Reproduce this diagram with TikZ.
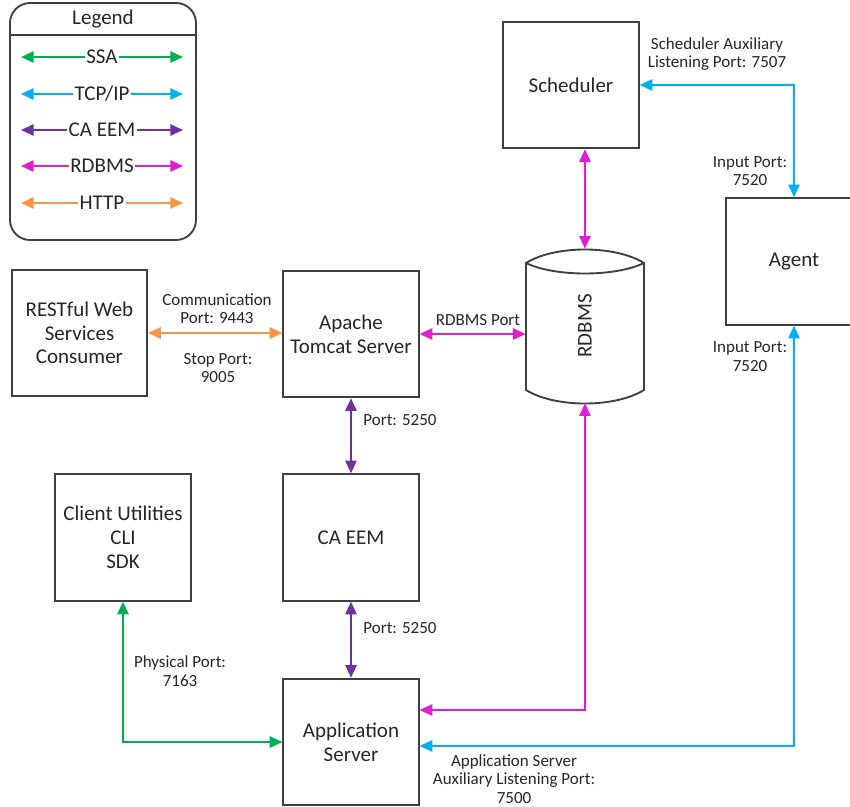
\documentclass[tikz,border=0pt]{standalone}
\usepackage{fontspec}
\setmainfont{Carlito}
\usetikzlibrary{arrows.meta,calc}
\definecolor{ssacol}{HTML}{00B050}
\definecolor{tcpcol}{HTML}{00B0F0}
\definecolor{eemcol}{HTML}{7030A0}
\definecolor{dbcol}{HTML}{DE20D2}
\definecolor{httpcol}{HTML}{F79646}
\definecolor{boxline}{HTML}{404040}
\definecolor{txt}{HTML}{262626}
\newcommand{\boxfont}{\fontsize{15.75}{17.8}\selectfont}
\newcommand{\lblfont}{\fontsize{12.75}{13.9}\selectfont}
\begin{document}
\begin{tikzpicture}[x=0.75pt,y=-0.75pt,
  text=txt,
  box/.style={draw=boxline, line width=1.4pt, minimum width=101.5pt, minimum height=95pt, align=center, font=\boxfont, inner sep=2pt},
  lbl/.style={font=\lblfont, align=center, inner sep=0pt},
  conn/.style={line width=1.35pt, {Triangle[length=9.5pt,width=8.5pt]}-{Triangle[length=9.5pt,width=8.5pt]}},
  ssa/.style={conn, draw=ssacol},
  tcp/.style={conn, draw=tcpcol},
  eem/.style={conn, draw=eemcol},
  db/.style={conn, draw=dbcol},
  http/.style={conn, draw=httpcol},
  legtext/.style={font=\boxfont, fill=white, inner sep=1pt, text=txt}
]
\useasboundingbox (0,0) rectangle (850,807);
\clip (0,0) rectangle (850,807);

% Legend
\node[draw=boxline, line width=1.4pt, rounded corners=15pt, minimum width=139.5pt, minimum height=177.75pt, inner sep=0pt] (legend) at (103,121.5) {};
\coordinate (lh1) at (10,35);
\coordinate (lh2) at (196,35);
\draw[boxline, line width=1.2pt] (lh1) -- (lh2);
\node[font=\boxfont, inner sep=0pt] (legtitle) at (103,19) {Legend};
\coordinate (la1) at (21,57);  \coordinate (lb1) at (183,57);
\coordinate (la2) at (21,94);  \coordinate (lb2) at (183,94);
\coordinate (la3) at (21,130); \coordinate (lb3) at (183,130);
\coordinate (la4) at (21,166); \coordinate (lb4) at (183,166);
\coordinate (la5) at (21,203); \coordinate (lb5) at (183,203);
\draw[ssa] (la1) -- node[legtext] (lssa) {SSA} (lb1);
\draw[tcp] (la2) -- node[legtext] (ltcp) {TCP/IP} (lb2);
\draw[eem] (la3) -- node[legtext] (leem) {CA EEM} (lb3);
\draw[db] (la4) -- node[legtext] (ldb) {RDBMS} (lb4);
\draw[http] (la5) -- node[legtext] (lhttp) {HTTP} (lb5);

% Boxes
\node[box] (sched) at (571,85) {Scheduler};
\node[box] (agent) at (794,261.5) {Agent};
\node[box] (rest) at (79.5,333) {RESTful Web\\Services\\Consumer};
\node[box] (tomcat) at (351,334) {Apache\\Tomcat Server};
\node[box] (client) at (123,537.5) {Client Utilities\\CLI\\SDK};
\node[box] (caeem) at (351,537.5) {CA EEM};
\node[box] (app) at (351,742) {Application\\Server};

% RDBMS cylinder
\node[minimum width=88.5pt, minimum height=115.5pt, inner sep=0pt] (rdbms) at (585,326) {};
\draw[boxline, line width=1.4pt]
  (526,263) -- (526,390) .. controls (555,408) and (615,408) .. (644,390)
  -- (644,263) .. controls (615,245) and (555,245) .. (526,263) -- cycle;
\draw[boxline, line width=1.4pt] (526,263) .. controls (555,277) and (615,277) .. (644,263);
\node[font=\boxfont, rotate=90, inner sep=0pt] (rdbmstext) at (585,326) {RDBMS};

% Connectors
\draw[http] (rest.east) -- (rest.east -| tomcat.west);
\draw[db] (tomcat.east) -- (tomcat.east -| rdbms.west);
\draw[db] (rdbms.north |- sched.south) -- (rdbms.north);
\draw[tcp] (sched.east) -| (agent.north);
\draw[eem] (tomcat.south) -- (caeem.north);
\draw[eem] (caeem.south) -- (app.north);
\draw[ssa] (client.south) |- (app.west);
\draw[db] (rdbms.south) |- ([yshift=24pt]app.east);
\draw[tcp] (agent.south) |- ([yshift=-3pt]app.east);

% Labels
\node[lbl] (l1) at (217,308.5) {Communication\\Port: 9443};
\node[lbl] (l2) at (218,368) {Stop Port:\\9005};
\node[lbl] (l3) at (478,320) {RDBMS Port};
\node[lbl] (l4) at (717,54) {Scheduler Auxiliary\\Listening Port: 7507};
\node[lbl] (l5) at (750,171) {Input Port:\\7520};
\node[lbl] (l6) at (750,356.5) {Input Port:\\7520};
\node[lbl] (l7) at (400,420) {Port: 5250};
\node[lbl] (l8) at (400,628) {Port: 5250};
\node[lbl] (l9) at (180,671) {Physical Port:\\7163};
\node[lbl] (l10) at (514,779) {Application Server\\Auxiliary Listening Port:\\7500};
\end{tikzpicture}
\end{document}
